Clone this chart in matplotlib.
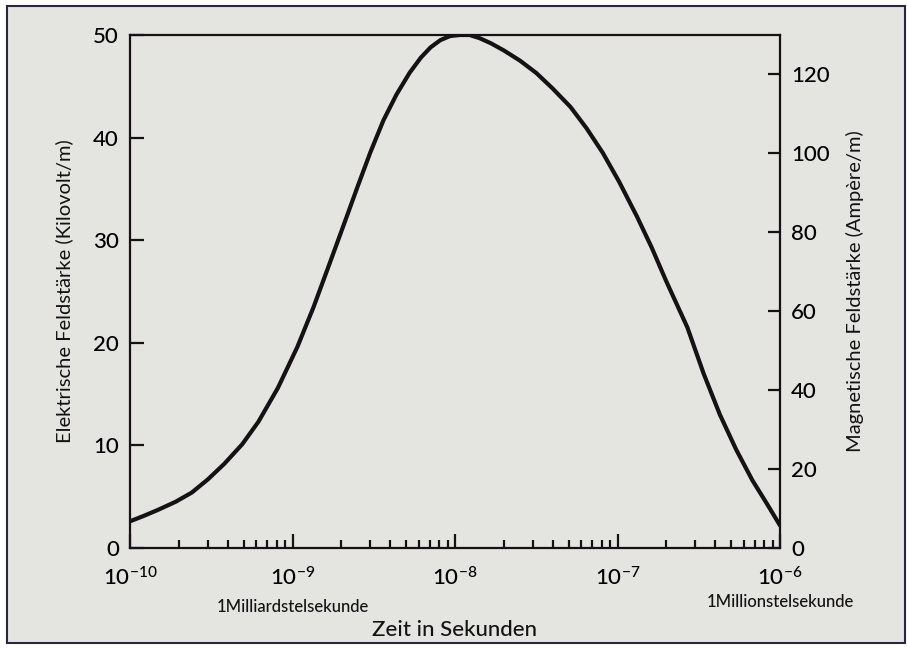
'''
Elektrische / magnetische Feldstärke eines Pulses über der Zeit
'''
import matplotlib
matplotlib.use("Agg")
import matplotlib.pyplot as plt
from matplotlib.patches import Rectangle
from matplotlib.ticker import FixedLocator, NullFormatter

plt.rcParams["font.family"] = ["Lato", "DejaVu Sans"]
plt.rcParams["font.weight"] = "medium"
plt.rcParams["mathtext.default"] = "regular"
plt.rcParams["axes.unicode_minus"] = False

# Zeit als Zehnerexponent (Sekunden) und Feldstärke in kV/m
t_exp = [-10.00, -9.92, -9.83, -9.72, -9.62, -9.52, -9.42, -9.31, -9.21,
         -9.09, -8.97, -8.87, -8.77, -8.68, -8.60, -8.52, -8.44, -8.36,
         -8.28, -8.21, -8.15, -8.09, -8.03, -7.97, -7.91, -7.85, -7.78,
         -7.70, -7.60, -7.50, -7.40, -7.29, -7.19, -7.09, -6.99, -6.88,
         -6.79, -6.70, -6.57, -6.47, -6.37, -6.27, -6.17, -6.08, -6.00]
e_field = [2.6, 3.1, 3.7, 4.5, 5.4, 6.7, 8.2, 10.1, 12.3,
           15.6, 19.6, 23.5, 27.8, 31.7, 35.2, 38.6, 41.7, 44.2,
           46.3, 47.8, 48.8, 49.5, 49.9, 50.0, 50.0, 49.7, 49.2,
           48.5, 47.5, 46.3, 44.8, 43.0, 40.9, 38.5, 35.7, 32.3,
           29.3, 26.0, 21.5, 17.0, 13.0, 9.6, 6.6, 4.3, 2.2]

x_decades = [1e-10, 1e-9, 1e-8, 1e-7, 1e-6]
left_ticks = [0, 10, 20, 30, 40, 50]
right_ticks = [0, 20, 40, 60, 80, 100, 120]
right_max = 130

BG = "#e4e4e0"
INK = "#141214"


def chart(opath):
    fig = plt.figure(figsize=(9.07, 6.48), dpi=100, facecolor="white")
    # Rahmen um die Abbildung
    fig.patches.append(Rectangle((7 / 907, 1 - 643 / 648), 898 / 907, 637 / 648,
                                 transform=fig.transFigure, facecolor=BG,
                                 edgecolor="#2a2540", lw=1.5, zorder=-10))

    ax = fig.add_axes([130 / 907, 1 - 548 / 648, 650 / 907, 513 / 648])
    ax.set_facecolor("none")
    t = [10.0 ** e for e in t_exp]
    ax.plot(t, e_field, color=INK, lw=3.0, solid_capstyle="round",
            solid_joinstyle="round")

    ax.set_xscale("log")
    ax.set_xlim(1e-10, 1e-6)
    ax.set_ylim(0, 50)
    ax.xaxis.set_major_locator(FixedLocator(x_decades))
    minor = [m * d for d in x_decades[:-1] for m in range(2, 10)]
    ax.xaxis.set_minor_locator(FixedLocator(minor))
    ax.xaxis.set_minor_formatter(NullFormatter())
    ax.yaxis.set_major_locator(FixedLocator(left_ticks))

    for s in ax.spines.values():
        s.set_linewidth(1.6)
        s.set_color(INK)

    ax.tick_params(axis="x", which="major", direction="in", length=10, width=1.6,
                   color=INK, labelsize=16, pad=13, top=False)
    ax.tick_params(axis="x", which="minor", direction="in", length=6, width=1.6,
                   color=INK, top=False)
    ax.tick_params(axis="y", direction="in", length=10, width=1.6, color=INK,
                   labelsize=16, pad=8, right=False)

    ax.set_ylabel("Elektrische Feldstärke (Kilovolt/m)", fontsize=14.5,
                  color=INK, labelpad=14)

    # rechte Achse
    ax2 = ax.twinx()
    ax2.set_ylim(0, right_max)
    ax2.yaxis.set_major_locator(FixedLocator(right_ticks))
    ax2.tick_params(axis="y", direction="in", length=9, width=1.6, color=INK,
                    labelsize=16, pad=8)
    for s in ax2.spines.values():
        s.set_visible(False)
    ax2.set_ylabel("Magnetische Feldstärke (Ampère/m)", fontsize=14.5,
                   color=INK, labelpad=12)

    ax.text(1e-9, -0.115, "1Milliardstelsekunde", transform=ax.get_xaxis_transform(),
            ha="center", va="center", fontsize=12, color=INK)
    ax.text(1e-6, -0.106, "1Millionstelsekunde", transform=ax.get_xaxis_transform(),
            ha="center", va="center", fontsize=12, color=INK)
    fig.text(455 / 907, 1 - 630 / 648, "Zeit in Sekunden", ha="center",
             va="center", fontsize=16, color=INK)

    plt.savefig(opath, dpi=100, facecolor=fig.get_facecolor())


if __name__ == "__main__":
    chart("out.png")
